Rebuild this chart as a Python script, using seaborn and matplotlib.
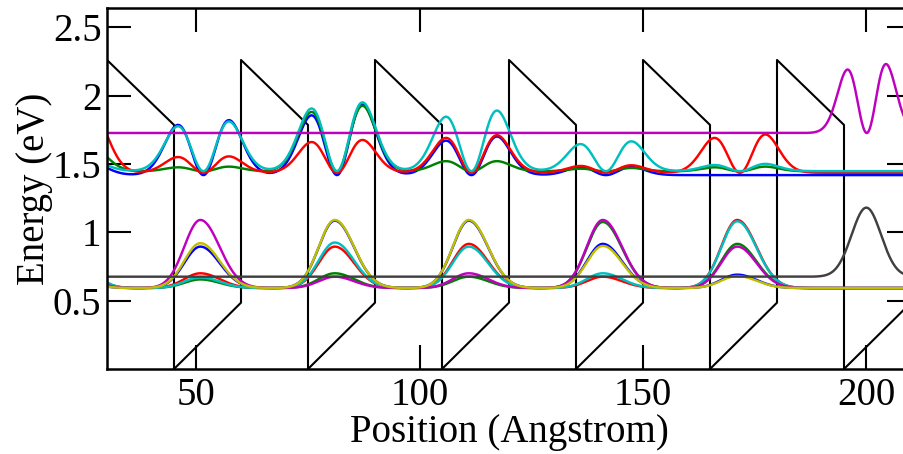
import numpy as np
import matplotlib
matplotlib.use("Agg")
import matplotlib.pyplot as plt
import seaborn as sns

# ---- band edge of the biased superlattice (Angstrom, eV) ----
band_x = [30, 45, 45, 60, 60, 75, 75, 90, 90, 105, 105, 120, 120, 135, 135,
          150, 150, 165, 165, 180, 180, 195, 195, 210]
band_e = [2.26, 1.785, 0.0, 0.485, 2.26, 1.785, 0.0, 0.485, 2.26, 1.785, 0.0,
          0.485, 2.26, 1.785, 0.0, 0.485, 2.26, 1.785, 0.0, 0.485, 2.26, 1.785,
          0.0, 0.485]

# ---- upper (excited) states: level and lobe peak energies in each well ----
upper_centers = [21.6, 51.6, 81.5, 111.6, 141.7, 171.7]
upper_lobe_width = 5.7

up_blue_level = 1.418
up_blue_left = [1.495, 1.785, 1.855, 1.670, 1.478, 1.418]
up_blue_right = [1.495, 1.820, 1.935, 1.700, 1.478, 1.418]

up_green_level = 1.445
up_green_left = [1.600, 1.475, 1.880, 1.520, 1.465, 1.475]
up_green_right = [1.600, 1.480, 1.925, 1.520, 1.470, 1.480]

up_red_level = 1.435
up_red_left = [1.845, 1.550, 1.660, 1.690, 1.485, 1.690]
up_red_right = [1.845, 1.555, 1.675, 1.710, 1.490, 1.715]

up_cyan_level = 1.447
up_cyan_left = [1.510, 1.775, 1.905, 1.845, 1.645, 1.492]
up_cyan_right = [1.510, 1.810, 1.950, 1.890, 1.665, 1.500]

# state localised in the last well
up_magenta_level = 1.726
up_magenta_center = 200.1
up_magenta_width = 4.3
up_magenta_peaks = [2.19, 2.23]

# ---- lower (ground) states: level and peak energy in each well ----
lower_centers = [20.9, 50.9, 81.0, 111.0, 141.0, 171.1]
lower_width_left = 3.6
lower_width_right = 4.3
lower_level = 0.592

low_blue = [0.70, 0.895, 1.085, 1.085, 0.915, 0.690]
low_green = [0.90, 0.655, 0.700, 0.675, 1.075, 0.915]
low_red = [0.95, 0.700, 0.895, 0.915, 0.675, 1.090]
low_cyan = [1.00, 0.670, 0.925, 0.895, 0.700, 1.080]
low_magenta = [0.80, 1.090, 0.675, 0.700, 1.090, 0.895]
low_yellow = [0.70, 0.920, 1.090, 1.090, 0.900, 0.680]

low_gray_level = 0.675
low_gray_center = 200.0
low_gray_width = 3.3
low_gray_peak = 1.18

x = np.linspace(30, 210, 1801)


def excited_density(level, centers, left, right, width):
    """|psi|^2 of a two-lobed state, offset by its energy level."""
    y = np.full_like(x, level)
    for c, pl, pr in zip(centers, left, right):
        u = (x - c) / width
        shape = u ** 2 * np.exp(1.0 - u ** 2)
        amp = np.where(u < 0, pl - level, pr - level)
        y += amp * shape
    return y


def ground_density(level, centers, peaks, wl, wr):
    """|psi|^2 of a single-lobed state, offset by its energy level."""
    y = np.full_like(x, level)
    for c, p in zip(centers, peaks):
        d = x - c
        w = np.where(d < 0, wl, wr)
        y += (p - level) * np.exp(-0.5 * (d / w) ** 2)
    return y


sns.set_theme(style="ticks")
plt.rcParams["font.family"] = ["Liberation Serif", "DejaVu Serif"]
plt.rcParams["text.color"] = "black"
plt.rcParams["axes.labelcolor"] = "black"

fig = plt.figure(figsize=(9.04, 4.54), dpi=100)
ax = fig.add_axes([107 / 904, 85 / 454, 804 / 904, 361 / 454])

lw = 1.75

# band edge
sns.lineplot(x=band_x, y=band_e, sort=False, estimator=None, color="black",
             linewidth=1.5, ax=ax)

# upper states
upper = [
    ("#0000ff", up_blue_level, up_blue_left, up_blue_right),
    ("#008000", up_green_level, up_green_left, up_green_right),
    ("#ff0000", up_red_level, up_red_left, up_red_right),
    ("#00bfbf", up_cyan_level, up_cyan_left, up_cyan_right),
]
for color, lev, pl, pr in upper:
    y = excited_density(lev, upper_centers, pl, pr, upper_lobe_width)
    sns.lineplot(x=x, y=y, sort=False, estimator=None, color=color,
                 linewidth=lw, ax=ax)
y = excited_density(up_magenta_level, [up_magenta_center],
                    [up_magenta_peaks[0]], [up_magenta_peaks[1]],
                    up_magenta_width)
sns.lineplot(x=x, y=y, sort=False, estimator=None, color="#bf00bf",
             linewidth=lw, ax=ax)

# lower states
lower = [
    ("#0000ff", low_blue),
    ("#008000", low_green),
    ("#ff0000", low_red),
    ("#00bfbf", low_cyan),
    ("#bf00bf", low_magenta),
    ("#bfbf00", low_yellow),
]
for color, peaks in lower:
    y = ground_density(lower_level, lower_centers, peaks,
                       lower_width_left, lower_width_right)
    sns.lineplot(x=x, y=y, sort=False, estimator=None, color=color,
                 linewidth=lw, ax=ax)
y = ground_density(low_gray_level, [low_gray_center], [low_gray_peak],
                   low_gray_width, low_gray_width)
sns.lineplot(x=x, y=y, sort=False, estimator=None, color="#404040",
             linewidth=lw, ax=ax)

ax.set_xlim(30, 210)
ax.set_ylim(0, 2.64)
ax.set_xticks([50, 100, 150, 200])
ax.set_xticklabels(["50", "100", "150", "200"])
ax.set_yticks([0.5, 1.0, 1.5, 2.0, 2.5])
ax.set_yticklabels(["0.5", "1", "1.5", "2", "2.5"])
ax.tick_params(direction="in", length=17, width=1.5, top=True, right=True,
               labelsize=28, pad=4, colors="black", labelcolor="black")
ax.tick_params(axis="x", pad=6)
for sp in ax.spines.values():
    sp.set_linewidth(1.8)
    sp.set_color("black")
ax.set_xlabel("Position (Angstrom)", fontsize=28, labelpad=0,
              color="black")
ax.set_ylabel("Energy (eV)", fontsize=28, labelpad=0, color="black")
ax.set_facecolor("white")
fig.patch.set_facecolor("white")

fig.savefig("out.png", dpi=100)
